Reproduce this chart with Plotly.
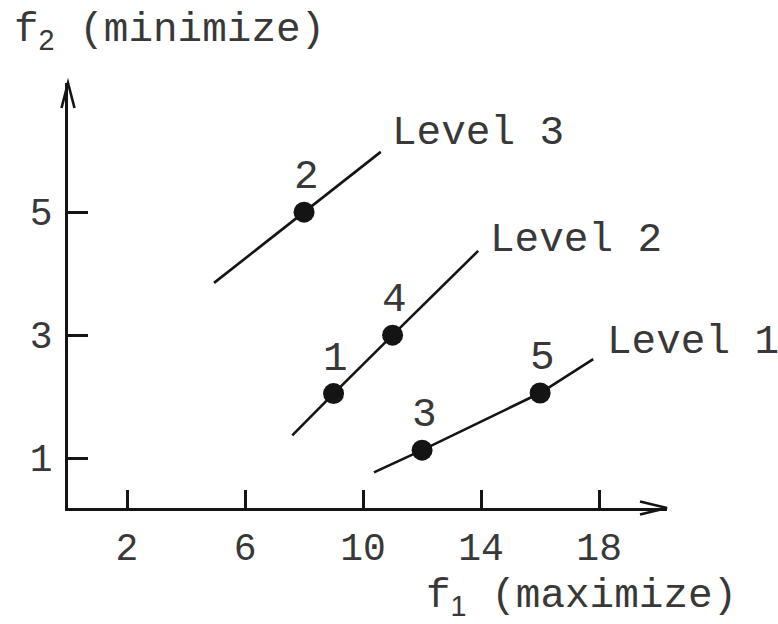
import plotly.graph_objects as go

# ---- data ----
point_ids = ["1", "2", "3", "4", "5"]
f1_vals = [9, 8, 12, 11, 16]
f2_vals = [2.05, 5, 1.13, 3, 2.06]

level_names = ["Level 1", "Level 2", "Level 3"]
level_members = [["3", "5"], ["1", "4"], ["2"]]
level_start_x = [10.37, 7.6, 4.95]
level_start_y = [0.77, 1.37, 3.85]
level_end_x = [17.8, 13.9, 10.6]
level_end_y = [2.61, 4.37, 5.98]
level_label_x = [18.3, 14.34, 11.0]
level_label_y = [2.89, 4.54, 6.28]

x_ticks = [2, 6, 10, 14, 18]
y_ticks = [1, 3, 5]
x_range = [0, 20.3]
y_range = [0.19, 7.1]

x_title = "f<sub><span style='font-family:Liberation Sans'>1</span></sub> (maximize)"
y_title = "f<sub><span style='font-family:Liberation Sans'>2</span></sub> (minimize)"

# ---- style ----
W, H = 778, 624
ML, MR, MT, MB = 68, 111, 83, 116
INK = "#141414"
TXT = "#383838"
MONO = "Liberation Mono, Courier New, monospace"
FS = 41
TFS = 38

fig = go.Figure()

idx = {p: i for i, p in enumerate(point_ids)}
for k, name in enumerate(level_names):
    mem = sorted(level_members[k], key=lambda p: f1_vals[idx[p]])
    xs = [level_start_x[k]] + [f1_vals[idx[p]] for p in mem] + [level_end_x[k]]
    ys = [level_start_y[k]] + [f2_vals[idx[p]] for p in mem] + [level_end_y[k]]
    fig.add_trace(go.Scatter(x=xs, y=ys, mode="lines",
                             line=dict(color=INK, width=2.6),
                             hoverinfo="skip", showlegend=False))
    fig.add_annotation(x=level_label_x[k], y=level_label_y[k], text=name,
                       showarrow=False, xanchor="left", yanchor="middle",
                       xshift=-3, font=dict(family=MONO, size=FS, color=TXT))

fig.add_trace(go.Scatter(x=f1_vals, y=f2_vals, mode="markers",
                         marker=dict(size=21, color=INK),
                         cliponaxis=False, showlegend=False))

for p, x, y in zip(point_ids, f1_vals, f2_vals):
    fig.add_annotation(x=x, y=y, text=p, showarrow=False, yshift=35, xshift=2,
                       font=dict(family=MONO, size=FS, color=TXT))

pw = W - ML - MR
ph = H - MT - MB
# arrow heads (open chevrons) at axis ends
ax_dx, ax_dy = 27 / pw, 6.5 / ph
ay_dx, ay_dy = 6.5 / pw, 25 / ph
fig.add_shape(type="path", xref="paper", yref="paper",
              path=f"M {1-ax_dx},{ax_dy} L 1,0 L {1-ax_dx},{-ax_dy}",
              line=dict(color=INK, width=2.6))
fig.add_shape(type="path", xref="paper", yref="paper",
              path=f"M {-ay_dx},{1-ay_dy} L 0,1 L {ay_dx},{1-ay_dy}",
              line=dict(color=INK, width=2.6))

fig.add_annotation(xref="paper", yref="paper", x=(12 - ML) / pw, y=(H - MB - 31) / ph,
                   text=y_title, showarrow=False, xanchor="left", yanchor="middle",
                   font=dict(family=MONO, size=FS, color=TXT))
fig.add_annotation(xref="paper", yref="paper", x=(424 - ML) / pw, y=(H - MB - 597) / ph,
                   text=x_title, showarrow=False, xanchor="left", yanchor="middle",
                   font=dict(family=MONO, size=FS, color=TXT))

axis_common = dict(showgrid=False, zeroline=False, showline=True, linecolor=INK,
                   linewidth=2.6, ticks="inside", tickcolor=INK, tickwidth=2.6,
                   tickfont=dict(family=MONO, size=TFS, color=TXT), fixedrange=True)
fig.update_xaxes(range=x_range, tickvals=x_ticks, ticklen=18,
                 ticklabelstandoff=4, **axis_common)
fig.update_yaxes(range=y_range, tickvals=y_ticks, ticklen=20,
                 ticklabelstandoff=5, **axis_common)

fig.update_layout(width=W, height=H, margin=dict(l=ML, r=MR, t=MT, b=MB),
                  paper_bgcolor="white", plot_bgcolor="white")

fig.write_html("out.html")
